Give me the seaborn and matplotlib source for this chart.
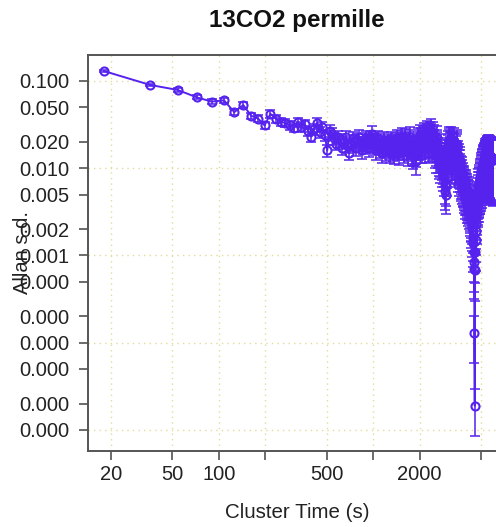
import numpy as np
import pandas as pd
import matplotlib
matplotlib.use("Agg")
import matplotlib.pyplot as plt
import seaborn as sns
from matplotlib.ticker import NullLocator

# ---------------- data ----------------
SAMPLE_INTERVAL = 18.0      # s, spacing of cluster times
N_TOTAL = 667               # number of samples in the record

adev = [
    0.130, 0.090, 0.079, 0.065, 0.058, 0.060, 0.044, 0.053, 0.040, 0.037,
    0.031, 0.042, 0.037, 0.034, 0.033, 0.031, 0.029, 0.034, 0.030, 0.032,
    0.027, 0.023, 0.028, 0.033, 0.026, 0.030, 0.024, 0.016, 0.027, 0.025,
    0.022, 0.019, 0.023, 0.021, 0.017, 0.020, 0.023, 0.018, 0.015, 0.019,
    0.022, 0.020, 0.017, 0.021, 0.023, 0.019, 0.016, 0.018, 0.021, 0.022,
    0.020, 0.017, 0.019, 0.022, 0.025, 0.021, 0.018, 0.016, 0.019, 0.022,
    0.020, 0.017, 0.015, 0.018, 0.021, 0.019, 0.016, 0.018, 0.020, 0.017,
    0.015, 0.018, 0.021, 0.019, 0.016, 0.015, 0.017, 0.020, 0.022, 0.019,
    0.017, 0.015, 0.018, 0.021, 0.023, 0.020, 0.017, 0.016, 0.019, 0.022,
    0.020, 0.018, 0.015, 0.017, 0.020, 0.023, 0.021, 0.018, 0.016, 0.015,
    0.014, 0.015, 0.018, 0.016, 0.012, 0.015, 0.019, 0.022, 0.020, 0.018,
    0.021, 0.024, 0.022, 0.019, 0.017, 0.020, 0.023, 0.025, 0.022, 0.019,
    0.017, 0.020, 0.023, 0.026, 0.024, 0.021, 0.018, 0.020, 0.023, 0.025,
    0.027, 0.024, 0.021, 0.019, 0.022, 0.025, 0.023, 0.020, 0.018, 0.016,
    0.014, 0.017, 0.020, 0.022, 0.019, 0.016, 0.014, 0.012, 0.013, 0.011,
    0.013, 0.016, 0.018, 0.015, 0.012, 0.010, 0.009, 0.011, 0.013, 0.010,
    0.008, 0.0065, 0.0055, 0.0050, 0.0062, 0.0080, 0.010, 0.012, 0.015, 0.017,
    0.019, 0.021, 0.020, 0.018, 0.016, 0.019, 0.021, 0.018, 0.015, 0.013,
    0.012, 0.014, 0.016, 0.018, 0.020, 0.017, 0.015, 0.013, 0.011, 0.012,
    0.014, 0.016, 0.018, 0.019, 0.017, 0.014, 0.012, 0.010, 0.009, 0.011,
    0.013, 0.012, 0.010, 0.011, 0.0095, 0.0085, 0.0080, 0.0090, 0.0085, 0.0075,
    0.0070, 0.0078, 0.0072, 0.0065, 0.0060, 0.0068, 0.0072, 0.0064, 0.0058, 0.0052,
    0.0058, 0.0064, 0.0060, 0.0054, 0.0048, 0.0052, 0.0057, 0.0050, 0.0045, 0.0049,
    0.0053, 0.0047, 0.0042, 0.0038, 0.0043, 0.0040, 0.0035, 0.0031, 0.0034, 0.0030,
    0.0026, 0.0029, 0.0024, 0.0021, 0.0023, 0.0019, 0.0016, 0.0014, 0.0011, 0.00085,
    0.00070, 0.00013, 0.000019, 0.00068, 0.0011, 0.0015, 0.0019, 0.0023, 0.0027, 0.0031,
    0.0035, 0.0040, 0.0044, 0.0049, 0.0053, 0.0057, 0.0062, 0.0058, 0.0064, 0.0069,
    0.0066, 0.0072, 0.0077, 0.0073, 0.0080, 0.0085, 0.0081, 0.0088, 0.0093, 0.0089,
    0.0095, 0.0100, 0.0096, 0.0103, 0.0108, 0.0102, 0.0110, 0.0115, 0.0109, 0.0116,
    0.0121, 0.0114, 0.0120, 0.0126, 0.0119, 0.0125, 0.0131, 0.0124, 0.0130, 0.0136,
    0.0129, 0.0135, 0.0140, 0.0133, 0.0138, 0.0143, 0.0136, 0.0141, 0.0146, 0.0139,
    0.0144, 0.0137, 0.0142, 0.0135, 0.0140, 0.0134, 0.0139, 0.0133, 0.0137, 0.0131,
    0.0136, 0.0130, 0.0134, 0.0128, 0.0132, 0.0127, 0.0131, 0.0126, 0.0130, 0.0125,
    0.0129, 0.0124, 0.0128,
]

x_ticks = [20, 50, 100, 200, 500, 1000, 2000, 5000]
x_tick_labels = ["20", "50", "100", "", "500", "", "2000", ""]
y_ticks = [0.1, 0.05, 0.02, 0.01, 0.005, 0.002, 0.001,
           0.0005, 0.0002, 0.0001, 0.00005, 0.00002, 0.00001]
y_tick_labels = ["0.100", "0.050", "0.020", "0.010", "0.005", "0.002", "0.001",
                 "0.000", "0.000", "0.000", "0.000", "0.000", "0.000"]

title = "13CO2 permille"
x_label = "Cluster Time (s)"
y_label = "Allan s.d."

# ---------------- derived table ----------------
n_cluster = np.arange(1, len(adev) + 1)
df = pd.DataFrame({
    "tau": n_cluster * SAMPLE_INTERVAL,
    "adev": np.array(adev),
})
# standard Allan-deviation uncertainty
df["err"] = df["adev"] / np.sqrt(2.0 * (N_TOTAL / n_cluster - 1.0))

# ---------------- style ----------------
sns.set_theme(style="white")
plt.rcParams["font.family"] = ["Liberation Sans", "DejaVu Sans"]
TXT = "#222222"
COL = "#5522ee"

W, H = 496, 527
fig = plt.figure(figsize=(W / 100, H / 100), dpi=100)
fig.patch.set_facecolor("white")

# axes box: left 88px, top 55px, bottom 451px, right ~506px (beyond canvas)
L, T, B, R = 88, 55, 451, 506
ax = fig.add_axes([L / W, 1 - B / H, (R - L) / W, (B - T) / H])
ax.set_facecolor("white")

ax.set_xscale("log")
ax.set_yscale("log")

ax.errorbar(df["tau"], df["adev"], yerr=df["err"], fmt="none",
            ecolor=COL, elinewidth=1.1, capsize=3.8, capthick=1.1, zorder=2)
sns.lineplot(data=df, x="tau", y="adev", ax=ax, color=COL, linewidth=1.4,
             marker="o", markersize=5.8, markerfacecolor="none",
             markeredgecolor=COL, markeredgewidth=1.5, zorder=3,
             estimator=None, sort=False)

ax.set_xlim(14.2, 7260)
ax.set_ylim(5.74e-6, 0.1986)

ax.set_xticks(x_ticks)
ax.set_xticklabels(x_tick_labels)
ax.set_yticks(y_ticks)
ax.set_yticklabels(y_tick_labels)
ax.xaxis.set_minor_locator(NullLocator())
ax.yaxis.set_minor_locator(NullLocator())

ax.tick_params(axis="both", which="major", direction="out", length=6.5,
               width=1.1, color="#444444", labelsize=14.5, labelcolor=TXT,
               bottom=True, left=True)
ax.tick_params(axis="x", pad=3.5)
ax.tick_params(axis="y", pad=7)

# grid
for xv in x_ticks:
    ax.axvline(xv, color="#e2dc9a", linestyle=(0, (1, 3)), linewidth=1.0, zorder=0)
for yv in [0.1, 0.01, 0.001, 0.0001, 0.00001]:
    ax.axhline(yv, color="#e2dc9a", linestyle=(0, (1, 3)), linewidth=1.0, zorder=0)

for s in ax.spines.values():
    s.set_color("#555555")
    s.set_linewidth(1.4)

ax.set_xlabel(x_label, fontsize=14.8, color=TXT, va="center", ha="center")
ax.xaxis.set_label_coords((297 - L) / (R - L), (B - 512) / (B - T))
ax.set_ylabel(y_label, fontsize=14.5, color=TXT, va="center", ha="center")
ax.yaxis.set_label_coords((23 - L) / (R - L), 0.5)
ax.set_title(title, fontsize=17.4, fontweight="bold", color="#111111",
             va="center", y=1 + (T - 20) / (B - T), pad=0)

fig.savefig("out.png", dpi=100)
